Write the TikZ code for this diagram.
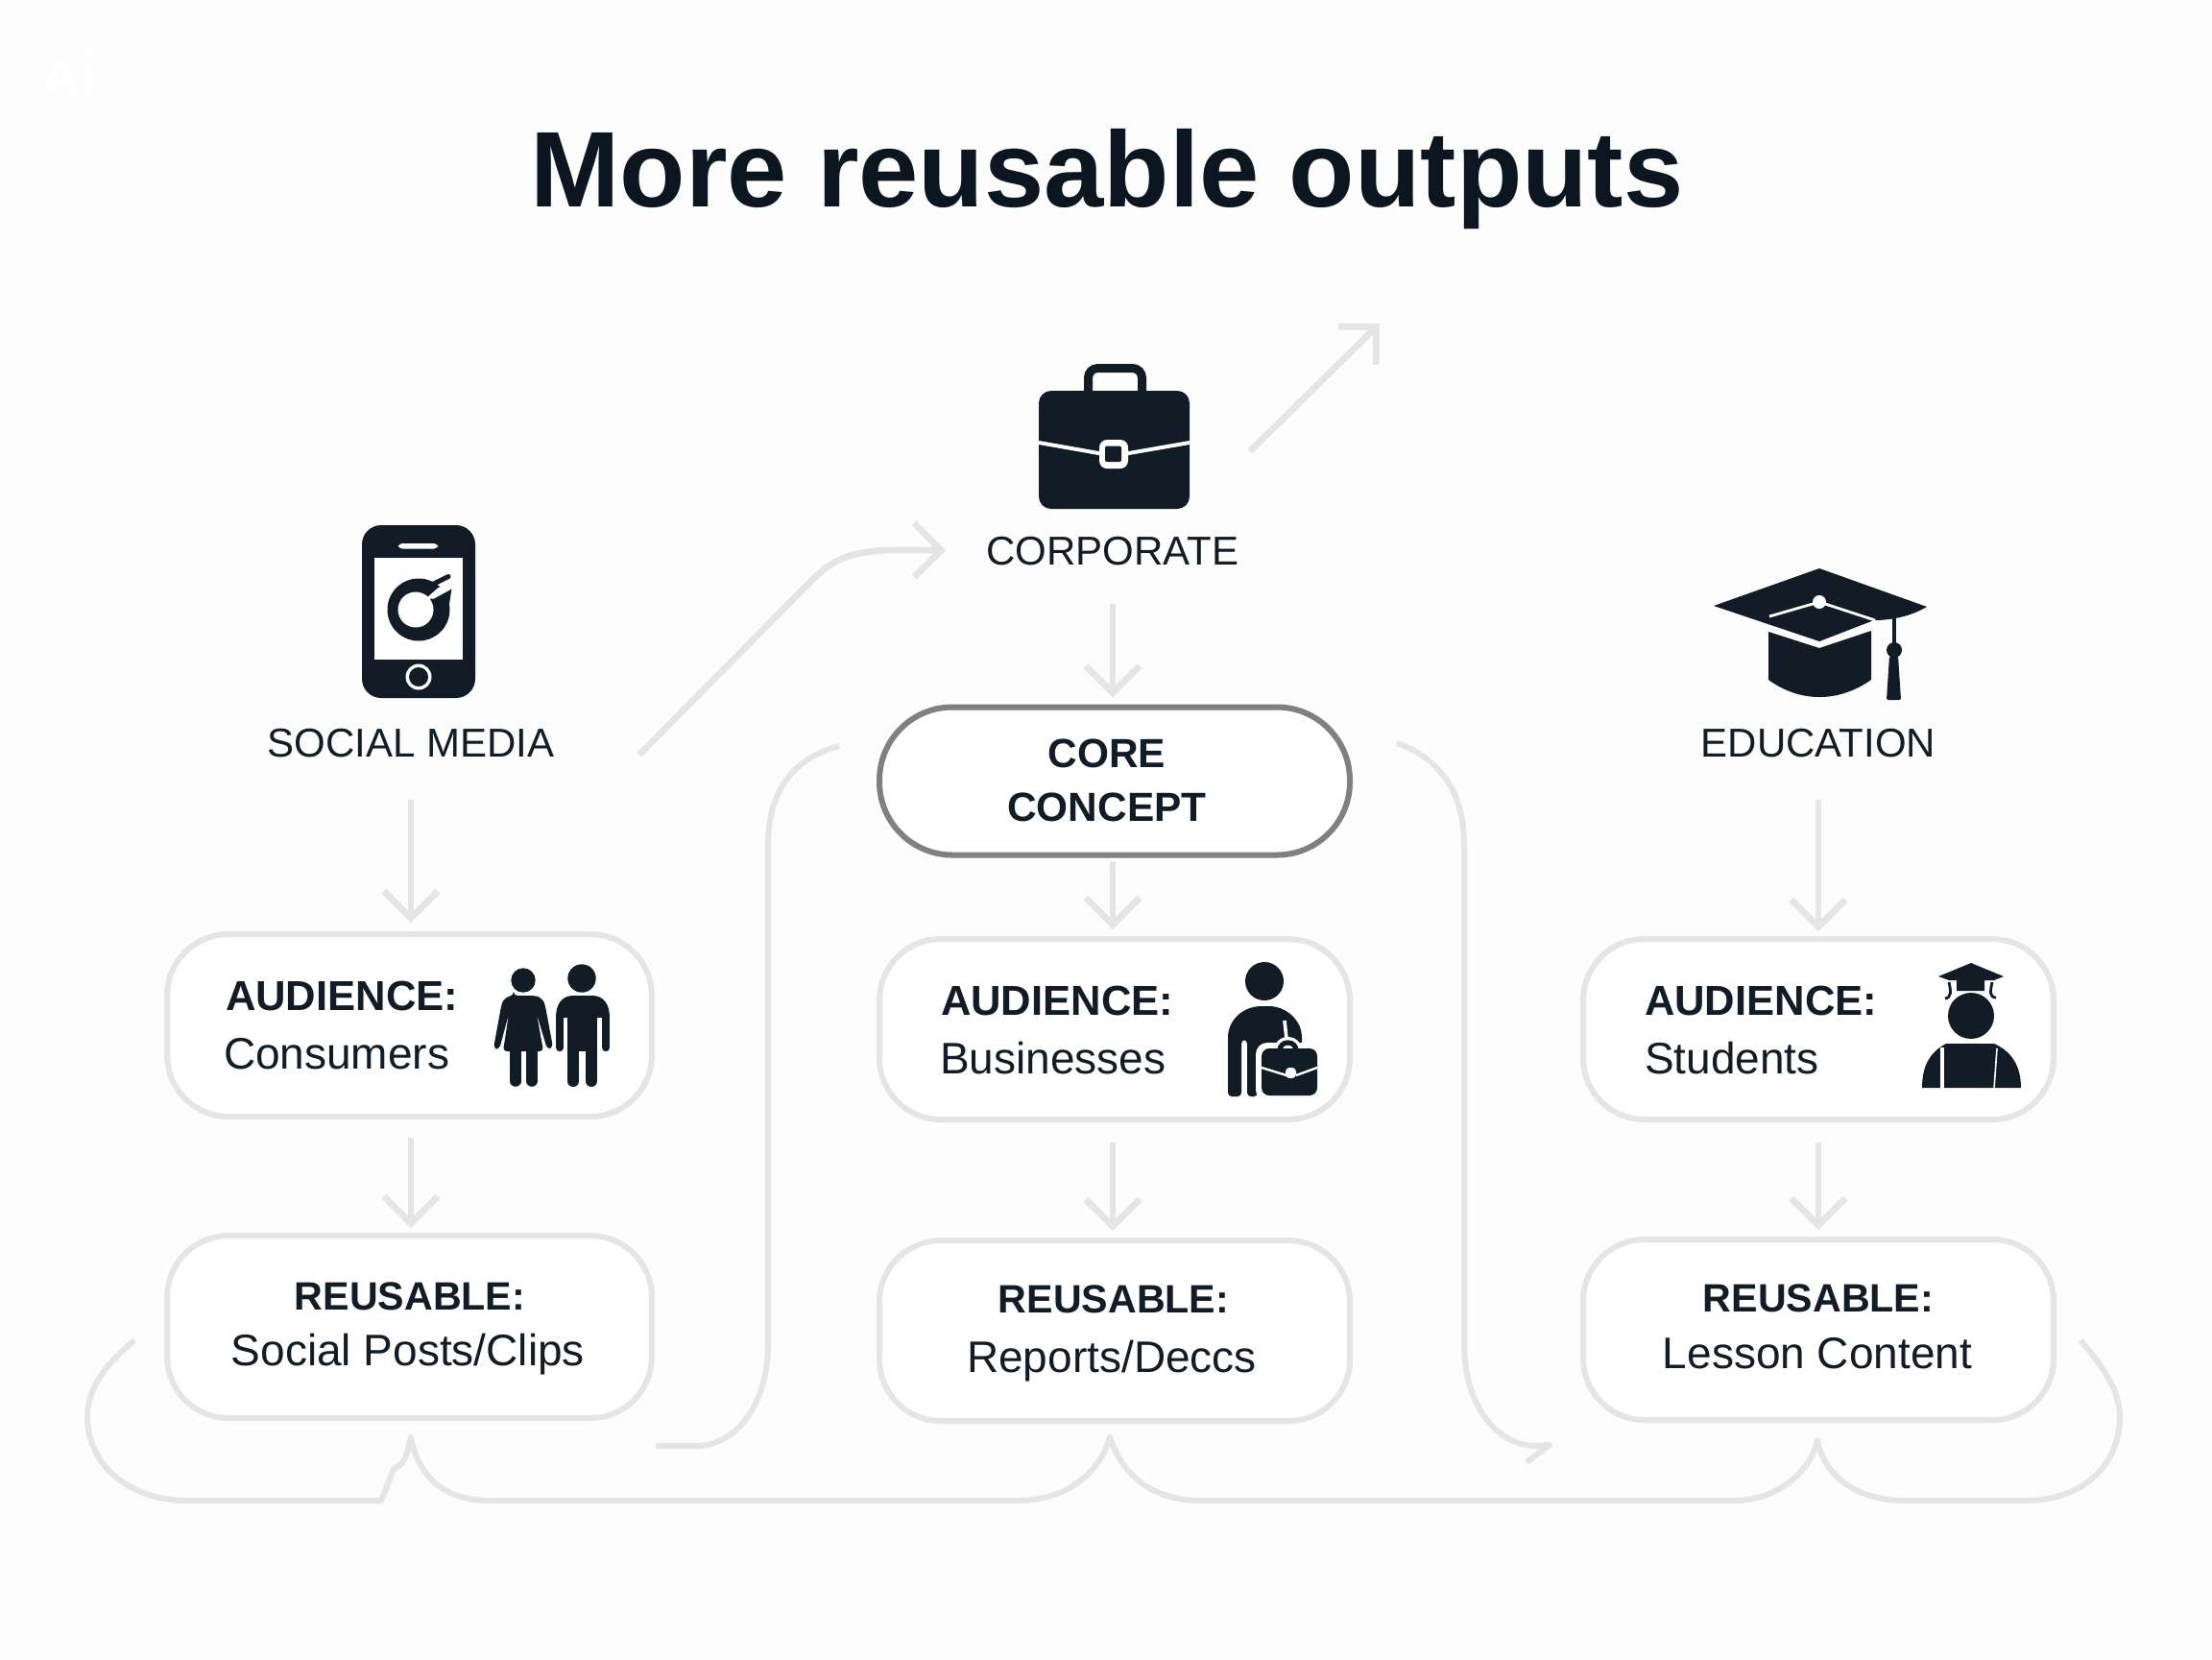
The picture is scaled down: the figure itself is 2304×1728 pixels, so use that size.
\documentclass[tikz,border=0pt]{standalone}
\usepackage{fontspec}
\setmainfont{Liberation Sans}
\usetikzlibrary{arrows.meta}
\definecolor{ink}{HTML}{111C27}
\definecolor{titleink}{HTML}{0C1620}
\definecolor{rule}{HTML}{E5E5E5}
\definecolor{paper}{HTML}{FDFDFD}
\definecolor{coreline}{HTML}{808080}
\tikzset{
  box/.style={draw=rule,line width=1.5pt,fill=white,rounded corners=16pt,minimum width=122.5pt,minimum height=47pt,inner sep=0pt,outer sep=0pt},
  boxwide/.style={box,minimum width=126.2pt,minimum height=47.5pt},
  corebox/.style={draw=coreline,line width=1.5pt,fill=white,rounded corners=19pt,minimum width=122.5pt,minimum height=38.5pt,inner sep=0pt,outer sep=0pt},
  arr/.style={draw=rule,line width=1.7pt,-{Straight Barb[length=7pt,width=14pt,line width=1.7pt]}},
  wire/.style={draw=rule,line width=1.5pt,line cap=butt,line join=round},
  lab/.style={text=ink,font=\fontsize{10.5}{13}\selectfont,inner sep=0pt,outer sep=0pt},
  lowlab/.style={text=ink,font=\fontsize{11.5}{13}\selectfont,inner sep=0pt,outer sep=0pt},
  audlab/.style={text=ink,font=\fontsize{10.9}{13}\selectfont\bfseries,inner sep=0pt,outer sep=0pt},
  reulab/.style={text=ink,font=\fontsize{10.3}{13}\selectfont\bfseries,inner sep=0pt,outer sep=0pt},
  corelab/.style={text=ink,font=\fontsize{10.6}{13}\selectfont\bfseries,inner sep=0pt,outer sep=0pt},
  wl/.style={draw=white,line cap=round},
}
\begin{document}
\begin{tikzpicture}[x=0.25pt,y=-0.25pt]
\useasboundingbox (0,0) rectangle (2304,1728);
\fill[paper] (0,0) rectangle (2304,1728);
% watermark
\node[text=white,font=\fontsize{14.5}{16}\selectfont\bfseries,inner sep=0pt,anchor=base west] (wm) at (42,100) {Ai};
\fill[white] (92,43) .. controls (93,50) and (95,52) .. (102,53) .. controls (95,54) and (93,56) .. (92,63) .. controls (91,56) and (89,54) .. (82,53) .. controls (89,52) and (91,50) .. (92,43) -- cycle;

% title
\node[text=titleink,font=\fontsize{28}{32}\selectfont\bfseries,inner sep=0pt] (title) at (1153,187) {More reusable outputs};

% boxes
\node[boxwide] (a1) at (426.5,1068) {};
\node[boxwide] (r1) at (426.5,1382) {};
\node[corebox] (core) at (1161,813.5) {};
\node[box] (a2) at (1161,1072) {};
\node[box] (r2) at (1161,1386) {};
\node[box] (a3) at (1894,1072) {};
\node[box] (r3) at (1894,1385) {};

% labels
\node[lab] (soc) at (428,774) {SOCIAL MEDIA};
\node[lab] (corp) at (1159,574) {CORPORATE};
\node[lab] (edu) at (1894,774) {EDUCATION};
\node[corelab] (core1) at (1153,785) {CORE};
\node[corelab] (core2) at (1153,841) {CONCEPT};
\node[audlab,anchor=west] (at1) at (235,1037) {AUDIENCE:};
\node[lowlab,anchor=west] (av1) at (233,1098) {Consumers};
\node[audlab,anchor=west] (at2) at (980,1042) {AUDIENCE:};
\node[lowlab,anchor=west] (av2) at (979,1102) {Businesses};
\node[audlab,anchor=west] (at3) at (1713,1042) {AUDIENCE:};
\node[lowlab,anchor=west] (av3) at (1713,1102) {Students};
\node[reulab] (rt1) at (427,1350) {REUSABLE:};
\node[lowlab] (rv1) at (425,1411) {Social Posts/Clips};
\node[reulab] (rt2) at (1160,1353) {REUSABLE:};
\node[lowlab] (rv2) at (1158,1418) {Reports/Deccs};
\node[reulab] (rt3) at (1894,1352) {REUSABLE:};
\node[lowlab] (rv3) at (1893,1410) {Lesson Content};

% vertical arrows
\draw[arr,shorten <=11pt,shorten >=3pt] (soc.south) -- (soc.south |- a1.north);
\draw[arr,shorten <=5.5pt,shorten >=2pt] (soc.south |- a1.south) -- (soc.south |- r1.north);
\draw[arr,shorten <=10pt,shorten >=2.5pt] (corp.south) -- (corp.south |- core.north);
\draw[arr,shorten <=1.5pt,shorten >=2.5pt] (corp.south |- core.south) -- (corp.south |- a2.north);
\draw[arr,shorten <=6pt,shorten >=2.5pt] (corp.south |- a2.south) -- (corp.south |- r2.north);
\draw[arr,shorten <=11pt,shorten >=2pt] (edu.south) -- (edu.south |- a3.north);
\draw[arr,shorten <=6pt,shorten >=2.5pt] (edu.south |- a3.south) -- (edu.south |- r3.north);

% free connectors
\coordinate (dgA) at (1302,470);
\coordinate (dgB) at (1437,337);
\draw[arr] (dgA) -- (dgB);
\coordinate (smA) at (666,786);
\coordinate (smB) at (985,573);
\draw[arr,line join=round] (smA) -- (845,605) .. controls (868,582) and (885,575) .. (925,573) -- (smB);
\coordinate (clA) at (874,777);
\coordinate (clB) at (683,1506);
\draw[wire] (clA) .. controls (825,790) and (800,825) .. (800,880) -- (800,1400) .. controls (800,1465) and (765,1506) .. (725,1506) -- (clB);
\coordinate (crA) at (1455,774);
\coordinate (crB) at (1614,1505);
\draw[wire] (crA) .. controls (1500,790) and (1525,825) .. (1525,880) -- (1525,1400) .. controls (1525,1465) and (1560,1506) .. (1600,1506) -- (crB) -- (1590,1523);
\coordinate (brA) at (140,1396);
\coordinate (brB) at (2167,1396);
\coordinate (pk1) at (428,1497);
\coordinate (pk2) at (1156,1497);
\coordinate (pk3) at (1893,1500);
\draw[wire] (brA) .. controls (105,1425) and (91,1450) .. (91,1475) .. controls (91,1530) and (140,1563) .. (195,1563) -- (397,1563)
  -- (410,1530) .. controls (422,1525) and (424,1515) .. (pk1)
  .. controls (435,1535) and (460,1563) .. (510,1563) -- (1060,1563)
  .. controls (1110,1563) and (1145,1535) .. (pk2)
  .. controls (1168,1535) and (1200,1563) .. (1250,1563) -- (1805,1563)
  .. controls (1850,1563) and (1885,1535) .. (pk3)
  .. controls (1900,1535) and (1930,1563) .. (1985,1563) -- (2110,1563)
  .. controls (2165,1563) and (2208,1530) .. (2208,1475) .. controls (2208,1450) and (2192,1425) .. (brB);

% ---- icons
\begin{scope}[ink]
% phone
\fill[rounded corners=5pt] (377,547) rectangle (495,727);
\fill[white,rounded corners=1pt] (415,566) rectangle (456,571.5);
\fill[white] (390,581) rectangle (482,687);
\fill[white] (436,705) circle[radius=13.5];
\fill (436,705) circle[radius=10];
\fill (436,635) circle[radius=32.5];
\draw[ink,line width=1.25pt,line cap=round] (450,609) -- (467,600.5);
\fill[line join=round] (446,626) -- (470.5,613) -- (467,636) -- cycle;
\fill[white] (443,624) -- (456,612.5) -- (473,604.5) -- (473,612) -- (452,623.5) -- cycle;
\fill[white] (433,635) circle[radius=18.5];

% briefcase
\draw[ink,line width=2.25pt,rounded corners=2.5pt] (1133.5,412) -- (1133.5,383.5) -- (1189.5,383.5) -- (1189.5,412);
\fill[rounded corners=3.2pt] (1082,407) rectangle (1239,530);
\draw[wl,line width=1pt,line cap=butt] (1082,461) -- (1150,473);
\draw[wl,line width=1pt,line cap=butt] (1170,473) -- (1239,461);
\fill[white,rounded corners=2pt] (1145,458) rectangle (1175,488);
\fill[rounded corners=0.5pt] (1151,464.5) rectangle (1168,481);

% cap
\fill[line join=round] (1895,592) -- (2007,632) .. controls (1990,642) and (1970,646) .. (1952,646) -- (1895,668) -- (1785,631) -- cycle;
\fill (1842,658) -- (1895,675) -- (1949,657) -- (1949,708) .. controls (1915,732) and (1875,732) .. (1842,708) -- cycle;
\draw[white,line width=0.7pt] (1843,642) -- (1895,627) -- (1953,646);
\fill[white] (1895,627) circle[radius=7];
\draw[ink,line width=1pt] (1973,644) -- (1973,673);
\fill (1973,677) circle[radius=8];
\fill[rounded corners=0.5pt] (1968,683) -- (1977,683) -- (1980,729) -- (1965,729) -- cycle;

% couple
\fill (545,1021) circle[radius=12.7];
\fill[rounded corners=1pt] (535,1037) -- (555,1037) .. controls (562,1038) and (566,1042) .. (568,1048) -- (576,1091) -- (570,1093) -- (559,1056) -- (566,1095) -- (524,1095) -- (530,1056) -- (520,1093) -- (514,1092) -- (522,1048) .. controls (524,1042) and (528,1038) .. (535,1037) -- cycle;
\draw[ink,line width=2.9pt,line cap=round] (537,1090) -- (537,1126);
\draw[ink,line width=2.9pt,line cap=round] (554,1090) -- (554,1126);
\fill (606,1019) circle[radius=14.7];
\fill (579,1060) .. controls (579,1045) and (586,1037) .. (597,1037) -- (617,1037) .. controls (628,1037) and (635,1045) .. (635,1060) -- cycle;
\draw[ink,line width=2.1pt,line cap=round] (583,1058) -- (583,1091);
\draw[ink,line width=2.1pt,line cap=round] (631,1058) -- (631,1091);
\fill (591,1050) rectangle (622,1095);
\draw[ink,line width=3pt,line cap=round] (597,1090) -- (597,1126);
\draw[ink,line width=3pt,line cap=round] (616,1090) -- (616,1126);

% business person
\fill (1317,1022) circle[radius=20];
\fill[rounded corners=1pt] (1279,1085) .. controls (1279,1062) and (1295,1048) .. (1318,1048) .. controls (1338,1048) and (1352,1060) .. (1356,1077) -- (1356,1100) -- (1310,1100) -- (1310,1142) -- (1299,1142) -- (1299,1083) -- (1293,1083) -- (1293,1142) -- (1279,1142) -- cycle;
\draw[white,line width=0.9pt] (1338,1063) -- (1340,1082);
\fill[white,rounded corners=3pt] (1308,1086) rectangle (1378,1147);
\draw[white,line width=3pt,rounded corners=2pt,line join=round] (1333,1096) -- (1333,1086) -- (1350,1086) -- (1350,1096);
\draw[ink,line width=1.3pt,rounded corners=2pt] (1333,1096) -- (1333,1086) -- (1350,1086) -- (1350,1096);
\fill[rounded corners=2pt] (1314,1092) rectangle (1372,1141);
\draw[white,line width=0.6pt] (1314,1112) -- (1340,1120);
\draw[white,line width=0.6pt] (1350,1120) -- (1372,1112);
\fill[white,rounded corners=1pt] (1339,1112) rectangle (1350,1123);

% student
\fill (2053,1003) -- (2087,1017) -- (2077,1021) -- (2067,1021) -- (2067,1032) -- (2038,1032) -- (2038,1021) -- (2030,1021) -- (2019,1017) -- cycle;
\draw[ink,line width=0.7pt] (2030,1023) .. controls (2032,1032) and (2033,1039) .. (2026,1040);
\draw[ink,line width=0.7pt] (2075,1023) .. controls (2073,1032) and (2072,1039) .. (2079,1039);
\fill (2053,1058) circle[radius=24];
\fill (2002,1133) .. controls (2002,1108) and (2012,1095) .. (2027,1087) -- (2077,1087) .. controls (2095,1095) and (2105,1110) .. (2105,1133) -- cycle;
\draw[white,line width=0.9pt] (2023,1091) -- (2023,1134);
\draw[white,line width=0.4pt] (2080,1092) -- (2077,1134);
\end{scope}
\end{tikzpicture}
\end{document}
